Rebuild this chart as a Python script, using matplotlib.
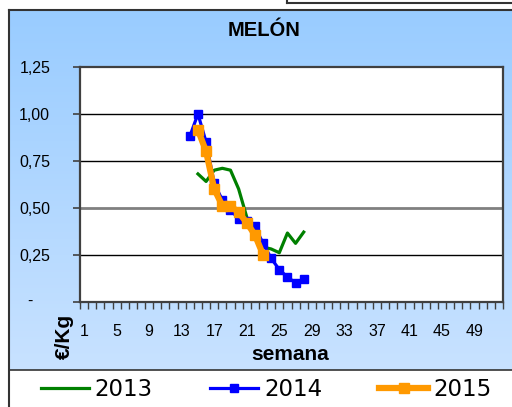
import numpy as np
import matplotlib
matplotlib.use('Agg')
import matplotlib.pyplot as plt

# data (price in EUR/kg per week)
weeks_2013 = list(range(15, 29))
price_2013 = [0.68, 0.64, 0.70, 0.71, 0.70, 0.60, 0.45, 0.35, 0.29, 0.28, 0.26, 0.365, 0.31, 0.37]
weeks_2014 = list(range(14, 29))
price_2014 = [0.88, 1.00, 0.85, 0.63, 0.54, 0.49, 0.44, 0.43, 0.40, 0.31, 0.23, 0.17, 0.13, 0.10, 0.12]
weeks_2015 = list(range(15, 24))
price_2015 = [0.915, 0.80, 0.60, 0.51, 0.51, 0.475, 0.42, 0.355, 0.25]

y_ticks = [0, 0.25, 0.50, 0.75, 1.00, 1.25]
x_labels = list(range(1, 53, 4))

W, H = 512, 407
fig = plt.figure(figsize=(W / 100, H / 100), dpi=100)
fig.patch.set_facecolor('white')

# background panel (pixel coordinates)
bg = fig.add_axes([0, 0, 1, 1])
bg.set_xlim(0, W)
bg.set_ylim(H, 0)
bg.axis('off')
grad = np.linspace(0, 1, 256).reshape(-1, 1)
top = np.array([153, 204, 255]) / 255
bot = np.array([200, 226, 255]) / 255
img = top + grad[..., None] * (bot - top)
img = np.repeat(img, 2, axis=1)
bg.imshow(img, extent=[9, W, 370, 10], aspect='auto', zorder=0)
bg.plot([9, W], [10, 10], color='#333333', lw=1.5)
bg.plot([9, W], [370, 370], color='#333333', lw=1.2)
bg.plot([9, 9], [10, H], color='#333333', lw=1.5)
bg.plot([287, W], [2.5, 2.5], color='#333333', lw=1.5)
bg.plot([287, 287], [0, 2.5], color='#333333', lw=1.5)

bg.text(264, 30.5, 'MELÓN', ha='center', va='center', fontsize=14.5,
        fontweight='bold', family='Liberation Sans')
bg.text(290, 354, 'semana', ha='center', va='center', fontsize=15,
        fontweight='bold', family='Liberation Sans')
bg.text(64, 336, '€/Kg', ha='center', va='center', fontsize=15,
        fontweight='bold', family='Liberation Sans', rotation=90)

# plot area
ax = fig.add_axes([80 / W, (H - 301.5) / H, (503 - 80) / W, (301.5 - 67) / H])
ax.set_facecolor('white')
ax.set_xlim(0.5, 52.5)
ax.set_ylim(0, 1.25)

for y in y_ticks[1:-1]:
    if y == 0.50:
        ax.axhline(y, color='#808080', lw=2.0, zorder=1)
    else:
        ax.axhline(y, color='black', lw=1.0, zorder=1)

ax.plot(weeks_2013, price_2013, color='#008000', lw=2.3, label='2013', zorder=3)
ax.plot(weeks_2014, price_2014, color='#0000FF', lw=2.3, marker='s', ms=6,
        label='2014', zorder=4)
ax.plot(weeks_2015, price_2015, color='#FF9900', lw=4.5, marker='s', ms=6.5,
        label='2015', zorder=5)

for s in ax.spines.values():
    s.set_color('#404040')
    s.set_linewidth(1.6)

ax.set_yticks(y_ticks)
ax.set_yticklabels(['' if v == 0 else f'{v:.2f}'.replace('.', ',') for v in y_ticks],
                   family='Liberation Sans', fontsize=11.5)
ax.tick_params(axis='y', length=5, width=1.2, color='#404040', pad=16.5)
ax.text(-0.118, 0.0, '-', transform=ax.transAxes, ha='center', va='center',
        fontsize=11.5, family='Liberation Sans')

ax.set_xticks(x_labels)
ax.set_xticklabels([str(v) for v in x_labels], family='Liberation Sans', fontsize=11.5)
ax.tick_params(axis='x', which='major', length=0, pad=16)
ax.set_xticks(np.arange(0.5, 53, 1), minor=True)
ax.tick_params(axis='x', which='minor', length=5, width=1.0, color='#404040')

fig.legend(loc='center', bbox_to_anchor=(0.52, 1 - 390 / H), ncol=3, frameon=False,
           fontsize=16.5, handlelength=2.1, handletextpad=0.25, columnspacing=2.5,
           borderpad=0)

fig.savefig('out.png', dpi=100)
